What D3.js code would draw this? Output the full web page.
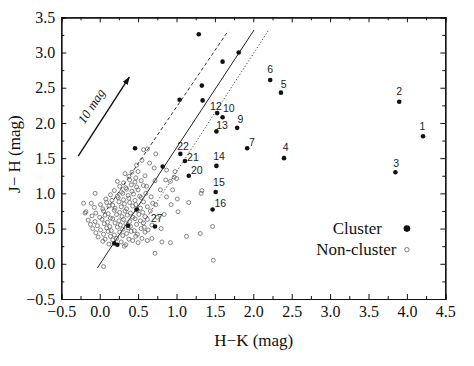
<!DOCTYPE html>
<html>
<head>
<meta charset="utf-8">
<script src="https://cdn.jsdelivr.net/npm/d3@7"></script>
<style>
  body { margin: 0; background: #fff; }
  svg { display: block; }
  .axis path, .axis line { stroke: #111; }
</style>
</head>
<body>
<div class="chart-container"></div>
<script>
// Data ---------------------------------------------------------------------------------------------------------
const xTicks = [-0.5, 0.0, 0.5, 1.0, 1.5, 2.0, 2.5, 3.0, 3.5, 4.0, 4.5];
const yTicks = [-0.5, 0.0, 0.5, 1.0, 1.5, 2.0, 2.5, 3.0, 3.5];

// cluster members (filled dots), H-K vs J-H
const clusterStars = [
  {id: "1", hk: 4.21, jh: 1.81},
  {id: "2", hk: 3.90, jh: 2.30},
  {id: "3", hk: 3.85, jh: 1.30},
  {id: "4", hk: 2.40, jh: 1.50},
  {id: "5", hk: 2.36, jh: 2.43},
  {id: "6", hk: 2.22, jh: 2.61},
  {id: "7", hk: 1.92, jh: 1.64},
  {id: "9", hk: 1.79, jh: 1.93},
  {id: "10", hk: 1.60, jh: 2.08},
  {id: "12", hk: 1.53, jh: 2.14},
  {id: "13", hk: 1.52, jh: 1.88},
  {id: "14", hk: 1.52, jh: 1.39},
  {id: "15", hk: 1.51, jh: 1.02},
  {id: "16", hk: 1.47, jh: 0.77},
  {id: "20", hk: 1.16, jh: 1.25},
  {id: "21", hk: 1.11, jh: 1.46},
  {id: "22", hk: 1.05, jh: 1.56},
  {id: "27", hk: 0.72, jh: 0.53},
  {id: "", hk: 1.29, jh: 3.26},
  {id: "", hk: 1.81, jh: 3.00},
  {id: "", hk: 1.60, jh: 2.87},
  {id: "", hk: 1.33, jh: 2.53},
  {id: "", hk: 1.34, jh: 2.32},
  {id: "", hk: 1.04, jh: 2.33},
  {id: "", hk: 0.46, jh: 1.64},
  {id: "", hk: 0.82, jh: 1.38},
  {id: "", hk: 0.48, jh: 0.77},
  {id: "", hk: 0.37, jh: 0.54},
  {id: "", hk: 0.19, jh: 0.29},
  {id: "", hk: 0.23, jh: 0.27}
];

// field stars (open circles), [H-K, J-H]
const fieldStars = [
  [0.04, 0.32], [0.12, 0.28], [0.17, 0.34], [0.28, 0.31], [0.34, 0.27], [0.43, 0.33], [0.50, 0.30],
  [-0.02, 0.38], [0.07, 0.35], [0.14, 0.39], [0.22, 0.36], [0.30, 0.40], [0.38, 0.35], [0.47, 0.39], [0.55, 0.36],
  [-0.05, 0.44], [0.05, 0.42], [0.11, 0.46], [0.19, 0.41], [0.26, 0.45], [0.35, 0.43], [0.41, 0.46], [0.49, 0.42], [0.59, 0.45],
  [-0.09, 0.50], [0.01, 0.48], [0.09, 0.51], [0.15, 0.47], [0.23, 0.52], [0.30, 0.49], [0.37, 0.51], [0.45, 0.47], [0.54, 0.50], [0.63, 0.48],
  [-0.12, 0.56], [-0.03, 0.54], [0.06, 0.57], [0.13, 0.53], [0.20, 0.58], [0.27, 0.55], [0.34, 0.57], [0.40, 0.53], [0.48, 0.56], [0.57, 0.58], [0.68, 0.55],
  [-0.15, 0.62], [-0.06, 0.60], [0.03, 0.63], [0.10, 0.59], [0.17, 0.64], [0.25, 0.61], [0.31, 0.63], [0.39, 0.60], [0.46, 0.64], [0.53, 0.61], [0.62, 0.63],
  [-0.10, 0.68], [0.00, 0.66], [0.07, 0.69], [0.14, 0.65], [0.22, 0.70], [0.29, 0.67], [0.36, 0.69], [0.43, 0.66], [0.51, 0.70], [0.59, 0.67],
  [-0.18, 0.74], [-0.05, 0.72], [0.05, 0.75], [0.11, 0.71], [0.19, 0.76], [0.26, 0.73], [0.33, 0.75], [0.40, 0.72], [0.49, 0.76], [0.56, 0.73], [0.66, 0.75],
  [-0.07, 0.80], [0.04, 0.78], [0.12, 0.82], [0.20, 0.79], [0.28, 0.81], [0.35, 0.78], [0.43, 0.82], [0.53, 0.79], [0.62, 0.81],
  [-0.11, 0.86], [0.01, 0.84], [0.09, 0.87], [0.17, 0.83], [0.25, 0.88], [0.32, 0.85], [0.39, 0.87], [0.47, 0.84], [0.57, 0.88],
  [0.08, 0.92], [0.16, 0.90], [0.24, 0.94], [0.31, 0.91], [0.38, 0.93], [0.46, 0.90], [0.54, 0.94],
  [0.14, 0.98], [0.23, 0.96], [0.30, 1.00], [0.37, 0.97], [0.44, 0.99], [0.52, 0.96], [0.60, 1.00],
  [0.19, 1.04], [0.28, 1.02], [0.35, 1.06], [0.42, 1.03], [0.50, 1.05],
  [0.26, 1.10], [0.34, 1.08], [0.41, 1.12], [0.48, 1.09], [0.57, 1.11],
  [0.23, 1.17], [0.31, 1.15], [0.39, 1.19], [0.46, 1.16], [0.54, 1.18],
  [0.38, 1.24], [0.47, 1.22], [0.59, 1.25],
  [0.05, -0.04], [-0.06, 1.00], [-0.21, 0.86], [-0.19, 0.72],
  [0.33, 1.28], [0.42, 1.30], [0.50, 1.31], [0.48, 1.40], [0.55, 1.47], [0.57, 1.62], [0.62, 1.63],
  [0.73, 1.56], [0.65, 1.43], [0.71, 1.36], [0.87, 1.33], [0.98, 1.31], [0.97, 1.23], [0.86, 1.19],
  [0.72, 1.18], [0.61, 1.10], [0.79, 1.05], [0.95, 1.05], [0.92, 1.17], [1.00, 1.21],
  [1.32, 1.00], [1.33, 1.04], [1.16, 0.87], [1.01, 0.92], [0.87, 0.95], [0.93, 0.84], [1.02, 0.74],
  [0.84, 0.70], [0.73, 0.84], [0.67, 0.95], [0.80, 0.50], [0.68, 0.36], [0.81, 0.31], [0.92, 0.30],
  [1.13, 0.39], [1.31, 0.43], [1.47, 0.53], [1.48, 0.05], [0.72, 0.15], [0.32, 0.25], [0.69, 0.86],
  [0.75, 0.66], [0.62, 0.33], [0.58, 0.52]
];

// reddening lines, in data units
const reddeningLines = [
  {kind: "dashed", hk1: 0.05, jh1: 0.70, hk2: 1.675, jh2: 3.31},
  {kind: "solid", hk1: -0.03, jh1: -0.06, hk2: 2.01, jh2: 3.32},
  {kind: "dotted", hk1: 0.55, jh1: 0.55, hk2: 2.195, jh2: 3.31}
];

const reddeningVector = {hk1: -0.28, jh1: 1.53, hk2: 0.385, jh2: 2.65, label: "10 mag"};

const legendItems = ["Cluster", "Non-cluster"];

// Layout -------------------------------------------------------------------------------------------------------
const width = 474, height = 366;
const plot = {left: 61.3, right: 445.3, top: 17.3, bottom: 299};
const serif = "'Liberation Serif', 'Times New Roman', serif";

// label offsets from the dot, label centre in px
const labelNudge = {
  "1": [-0.5, -10], "2": [0, -11], "3": [0.7, -9.3], "4": [1.7, -11], "5": [2.7, -8.7],
  "6": [0, -10.3], "7": [4.7, -6.4], "9": [3.3, -9], "10": [6.3, -8.6], "12": [-1.3, -6.3],
  "13": [5.7, -6.4], "14": [2.7, -10], "15": [3.3, -10], "16": [7.7, -6], "20": [8, -5.3],
  "21": [8, -4], "22": [2.7, -8], "27": [1.7, -7.7]
};

const lineStyle = {
  dashed: {dash: "3.5,2.5", color: "#333"},
  solid: {dash: null, color: "#222"},
  dotted: {dash: "1.2,2", color: "#444"}
};

// SVG ----------------------------------------------------------------------------------------------------------
const svg = d3.select(".chart-container").append("svg")
.attr("width", width)
.attr("height", height);

// Scales -------------------------------------------------------------------------------------------------------
const x = d3.scaleLinear().domain([-0.5, 4.5]).range([plot.left, plot.right]);
const y = d3.scaleLinear().domain([-0.5, 3.5]).range([plot.bottom, plot.top]);

const minorX = d3.range(-0.25, 4.5, 0.5);
const minorY = d3.range(-0.25, 3.5, 0.5);
const fmt = d3.format(".1f");

// Axes ---------------------------------------------------------------------------------------------------------
const addAxis = (axis, transform, labels) => {
  const g = svg.append("g")
  .attr("class", "axis")
  .attr("transform", transform)
  .call(axis)
  .attr("font-family", serif)
  .attr("font-size", 16);
  g.select(".domain").attr("stroke-width", 1.2);
  g.selectAll(".tick line").attr("stroke-width", 1);
  g.selectAll(".tick text").attr("fill", "#111");
  if (!labels) g.selectAll(".tick text").remove();
  return g;
};

// bottom + left with labels
addAxis(d3.axisBottom(x).tickValues(xTicks).tickSize(-5).tickPadding(7).tickFormat(fmt), `translate(0,${plot.bottom})`, true);
addAxis(d3.axisLeft(y).tickValues(yTicks).tickSize(-5).tickPadding(6).tickFormat(fmt), `translate(${plot.left},0)`, true);
// top + right, ticks only
addAxis(d3.axisTop(x).tickValues(xTicks).tickSize(-5).tickFormat(""), `translate(0,${plot.top})`, false);
addAxis(d3.axisRight(y).tickValues(yTicks).tickSize(-5).tickFormat(""), `translate(${plot.right},0)`, false);
// minor ticks
addAxis(d3.axisBottom(x).tickValues(minorX).tickSize(-3).tickFormat(""), `translate(0,${plot.bottom})`, false);
addAxis(d3.axisTop(x).tickValues(minorX).tickSize(-3).tickFormat(""), `translate(0,${plot.top})`, false);
addAxis(d3.axisLeft(y).tickValues(minorY).tickSize(-3).tickFormat(""), `translate(${plot.left},0)`, false);
addAxis(d3.axisRight(y).tickValues(minorY).tickSize(-3).tickFormat(""), `translate(${plot.right},0)`, false);

// Axis titles
svg.append("text")
.attr("x", (plot.left + plot.right) / 2 + 0.5)
.attr("y", 346)
.attr("text-anchor", "middle")
.attr("font-family", serif)
.attr("font-size", 17)
.attr("fill", "#111")
.text("H\u2212K (mag)");

svg.append("text")
.attr("transform", `translate(20,${(plot.top + plot.bottom) / 2 - 4}) rotate(-90)`)
.attr("text-anchor", "middle")
.attr("font-family", serif)
.attr("font-size", 17)
.attr("fill", "#111")
.text("J\u2212 H (mag)");

// Reddening lines ----------------------------------------------------------------------------------------------
svg.append("g").selectAll("line")
.data(reddeningLines)
.join("line")
.attr("x1", d => x(d.hk1))
.attr("y1", d => y(d.jh1))
.attr("x2", d => x(d.hk2))
.attr("y2", d => y(d.jh2))
.attr("stroke", d => lineStyle[d.kind].color)
.attr("stroke-width", 1)
.attr("stroke-dasharray", d => lineStyle[d.kind].dash);

// Field stars --------------------------------------------------------------------------------------------------
svg.append("g").selectAll("circle")
.data(fieldStars)
.join("circle")
.attr("cx", d => x(d[0]))
.attr("cy", d => y(d[1]))
.attr("r", 2)
.attr("fill", "none")
.attr("stroke", "#5e5e5e")
.attr("stroke-width", 0.75);

// Cluster stars ------------------------------------------------------------------------------------------------
svg.append("g").selectAll("circle")
.data(clusterStars)
.join("circle")
.attr("cx", d => x(d.hk))
.attr("cy", d => y(d.jh))
.attr("r", 2.3)
.attr("fill", "#111");

svg.append("g").selectAll("text")
.data(clusterStars.filter(d => d.id))
.join("text")
.attr("x", d => x(d.hk) + (labelNudge[d.id] || [2.5, -9])[0])
.attr("y", d => y(d.jh) + (labelNudge[d.id] || [2.5, -9])[1] + 3.7)
.attr("text-anchor", "middle")
.attr("font-family", "'Liberation Sans', Arial, sans-serif")
.attr("font-size", 10.5)
.attr("fill", "#222")
.text(d => d.id);

// Reddening vector ---------------------------------------------------------------------------------------------
svg.append("defs").append("marker")
.attr("id", "head")
.attr("viewBox", "0 0 10 10")
.attr("refX", 9)
.attr("refY", 5)
.attr("markerWidth", 6)
.attr("markerHeight", 6)
.attr("orient", "auto")
.append("path")
.attr("d", "M0,1.5L10,5L0,8.5Z")
.attr("fill", "#111");

const rv = reddeningVector;
svg.append("line")
.attr("x1", x(rv.hk1))
.attr("y1", y(rv.jh1))
.attr("x2", x(rv.hk2))
.attr("y2", y(rv.jh2))
.attr("stroke", "#111")
.attr("stroke-width", 1.4)
.attr("marker-end", "url(#head)");

const rvAngle = Math.atan2(y(rv.jh2) - y(rv.jh1), x(rv.hk2) - x(rv.hk1)) * 180 / Math.PI;
svg.append("text")
.attr("transform", `translate(${x(-0.11)},${y(2.24)}) rotate(${rvAngle})`)
.attr("text-anchor", "middle")
.attr("dy", "0.35em")
.attr("font-family", serif)
.attr("font-style", "italic")
.attr("font-size", 13)
.attr("fill", "#111")
.text(rv.label);

// Legend -------------------------------------------------------------------------------------------------------
const legend = svg.append("g");
legend.append("circle")
.attr("cx", x(4.0)).attr("cy", y(0.5)).attr("r", 3.3).attr("fill", "#111");
legend.append("circle")
.attr("cx", x(4.0)).attr("cy", y(0.2)).attr("r", 2.2)
.attr("fill", "none").attr("stroke", "#5e5e5e").attr("stroke-width", 0.8);

legend.selectAll("text")
.data(legendItems)
.join("text")
.attr("x", (d, i) => x(4.0) - (i === 0 ? 25 : 10.5))
.attr("y", (d, i) => (i === 0 ? y(0.5) : y(0.2)) + 5)
.attr("text-anchor", "end")
.attr("font-family", serif)
.attr("font-size", 17)
.attr("fill", "#111")
.text(d => d);
</script>
</body>
</html>
